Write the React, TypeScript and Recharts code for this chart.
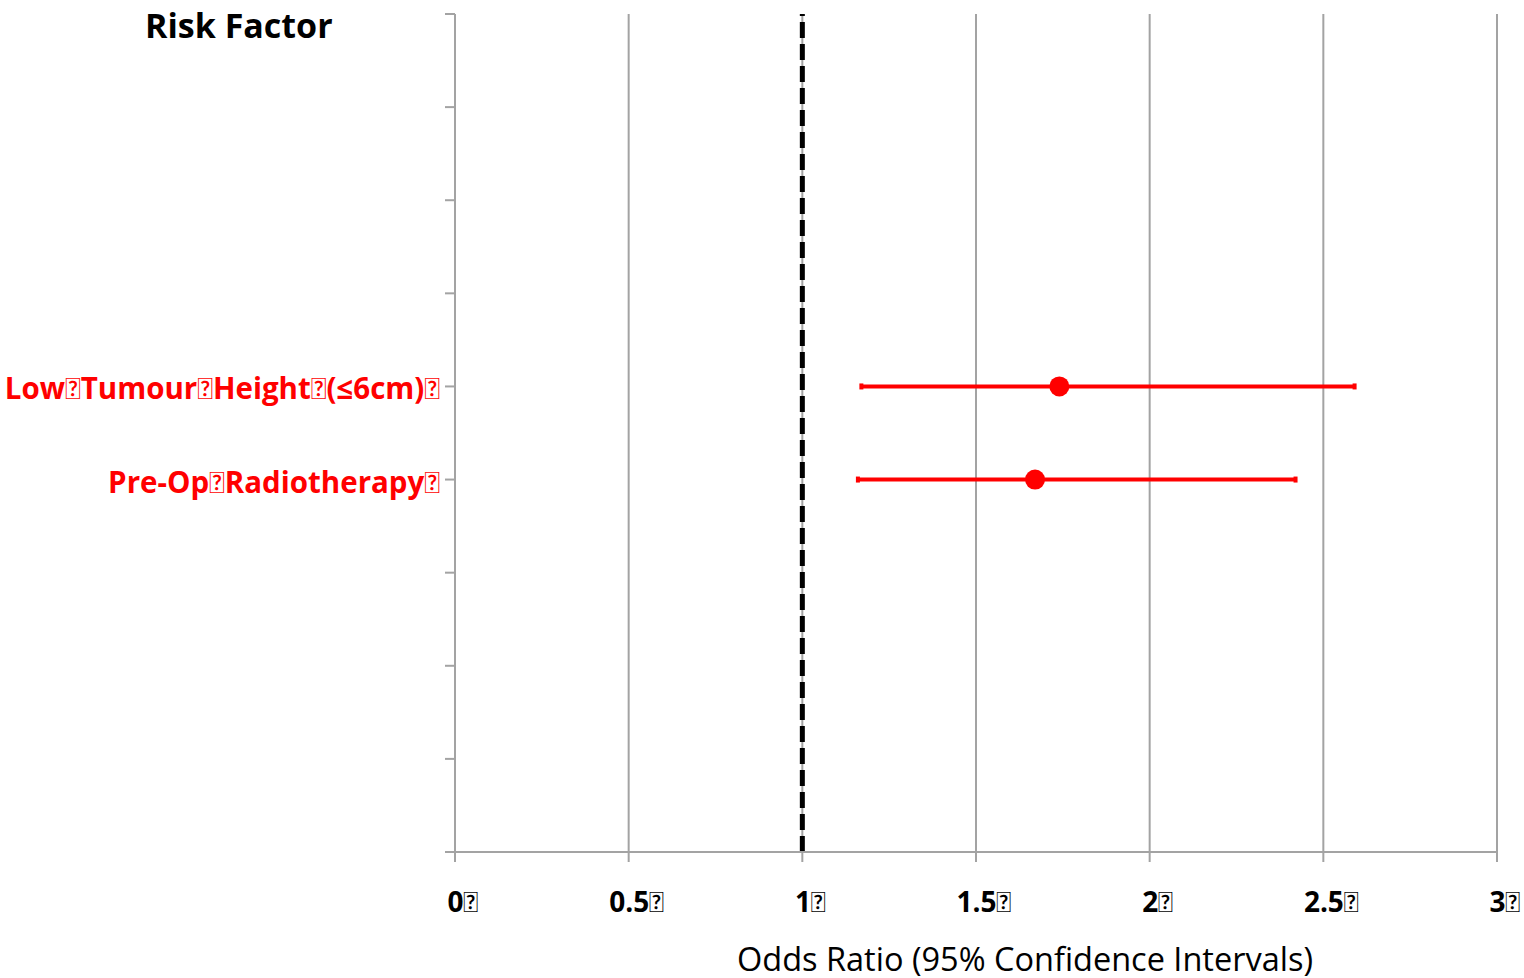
import {
  ScatterChart, Scatter, XAxis, YAxis, CartesianGrid, ErrorBar, ReferenceLine,
} from 'recharts';

// Missing-glyph boxes in the source labels are kept as an unmapped char
const BOX = '\uF020';

const riskFactors = [
  `Low${BOX}Tumour${BOX}Height${BOX}(≤6cm)${BOX}`,
  `Pre-Op${BOX}Radiotherapy${BOX}`,
];
const rowPositions = [5, 4];
const oddsRatios = [1.74, 1.67];
const ciLower = [1.17, 1.16];
const ciUpper = [2.59, 2.42];

const xTicks = [0, 0.5, 1, 1.5, 2, 2.5, 3];
const yTicks = [0, 1, 2, 3, 4, 5, 6, 7, 8, 9];

const FONT = '"Open Sans", Lato, sans-serif';
const BOX_FONT = 'Lato';
const RED = '#ff0000';
const GREY = '#a3a3a3';

const data = riskFactors.map((name, i) => ({
  name,
  row: rowPositions[i],
  or: oddsRatios[i],
  ci: [oddsRatios[i] - ciLower[i], ciUpper[i] - oddsRatios[i]],
}));

// draw the box glyphs with a font that shows them as boxes
function withBoxes(label: string) {
  const parts = label.split(BOX);
  return parts.map((p, i) => (
    <tspan key={i}>
      {p}
      {i < parts.length - 1 && <tspan fontFamily={BOX_FONT} fontWeight="normal">{BOX}</tspan>}
    </tspan>
  ));
}

// eslint-disable-next-line @typescript-eslint/no-explicit-any
function RowTick({ x, y, payload }: any) {
  const idx = rowPositions.indexOf(payload.value);
  if (idx < 0) return null;
  return (
    <text x={x} y={y} dy={13} textAnchor="end" fill={RED} fontSize={29.5} fontWeight="bold" fontFamily={FONT}>
      {withBoxes(riskFactors[idx])}
    </text>
  );
}

// eslint-disable-next-line @typescript-eslint/no-explicit-any
function OrTick({ x, y, payload }: any) {
  return (
    <text x={x + 8} y={y} dy={48} textAnchor="middle" fill="#000" fontSize={28} fontWeight="bold" fontFamily={FONT}>
      {withBoxes(`${payload.value}${BOX}`)}
    </text>
  );
}

// eslint-disable-next-line @typescript-eslint/no-explicit-any
function Dot({ cx, cy }: any) {
  return <circle cx={cx} cy={cy} r={10} fill={RED} />;
}

export default function App() {
  return (
    <div style={{ position: 'absolute', left: 0, top: 0, width: 1524, height: 978, background: '#fff' }}>
      <div
        style={{
          position: 'absolute', left: 145, top: 3, fontFamily: FONT, fontWeight: 'bold',
          fontSize: 34, color: '#000', lineHeight: '44px', whiteSpace: 'nowrap',
        }}
      >
        Risk Factor
      </div>
      <ScatterChart width={1524} height={978} margin={{ top: 14, right: 27, bottom: 0, left: 0 }}>
        <CartesianGrid horizontal={false} stroke={GREY} strokeWidth={2} />
        <XAxis
          type="number"
          dataKey="or"
          domain={[0, 3]}
          ticks={xTicks}
          interval={0}
          height={126}
          tickSize={10}
          stroke={GREY}
          strokeWidth={2}
          tick={<OrTick />}
        />
        <YAxis
          type="number"
          dataKey="row"
          domain={[0, 9]}
          ticks={yTicks}
          interval={0}
          width={455}
          tickSize={10}
          tickMargin={5}
          stroke={GREY}
          strokeWidth={2}
          tick={<RowTick />}
        />
        <ReferenceLine x={1} stroke="#000" strokeWidth={5} strokeDasharray="16 6" />
        <Scatter data={data} fill={RED} shape={<Dot />} isAnimationActive={false}>
          <ErrorBar dataKey="ci" direction="x" width={3} stroke={RED} strokeWidth={4} />
        </Scatter>
      </ScatterChart>
      <div
        style={{
          position: 'absolute', left: 737, top: 937, fontFamily: FONT, fontSize: 32.5,
          color: '#000', lineHeight: '44px', whiteSpace: 'nowrap',
        }}
      >
        Odds Ratio (95% Confidence Intervals)
      </div>
    </div>
  );
}
